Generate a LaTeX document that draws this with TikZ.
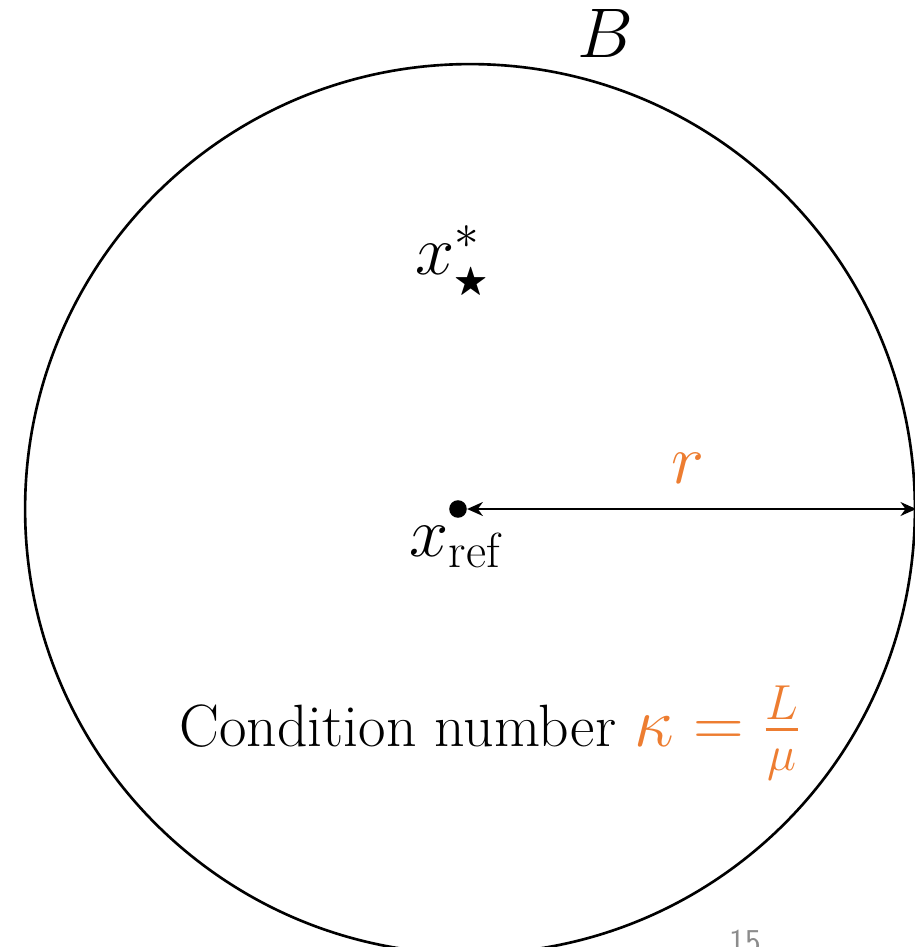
\RequirePackage{fix-cm}
\documentclass[tikz,border=0pt]{standalone}
\usepackage{amsmath,amssymb}
\usepackage{xcolor}
\usetikzlibrary{arrows.meta,positioning}
\definecolor{KappaOrange}{HTML}{ED7D31}
\definecolor{SlideGray}{HTML}{8C8C8C}

\begin{document}
\begin{tikzpicture}[x=0.02cm,y=-0.02cm, every node/.style={font=\fontsize{40}{46}\selectfont}]
      \useasboundingbox (0,0) rectangle (915,947);
      \clip (0,0) rectangle (915,947);
      \node[draw,circle,line width=1.5pt,minimum size=17.8cm,inner sep=0pt] (B) at (470,509) {};
      \node (Blabel) at (605,33) {$B$};
      \node (xstar) at (452,262) {$x^{*}_{\scriptscriptstyle\bigstar}$};
      \node[circle,fill,inner sep=0pt,minimum size=10pt] (ref) at (458,509) {};
      \draw[{Stealth[length=9pt,width=8pt]}-{Stealth[length=9pt,width=8pt]},line width=0.8pt] (ref.east) -- (B.east);
      \node[text=KappaOrange] (r) at (688,468) {$r$};
      \node (xref) at (455,547) {$x_{\text{ref}}$};
      \node[font=\fontsize{34}{40}\selectfont] (cond) at (490,733) {Condition number \textcolor{KappaOrange}{\fontsize{40}{46}\selectfont$\kappa=\frac{L}{\mu}$}};
      \node[text=SlideGray,font=\fontsize{19}{22}\selectfont\sffamily] (page) at (745,942) {15};
    \end{tikzpicture}
\end{document}
